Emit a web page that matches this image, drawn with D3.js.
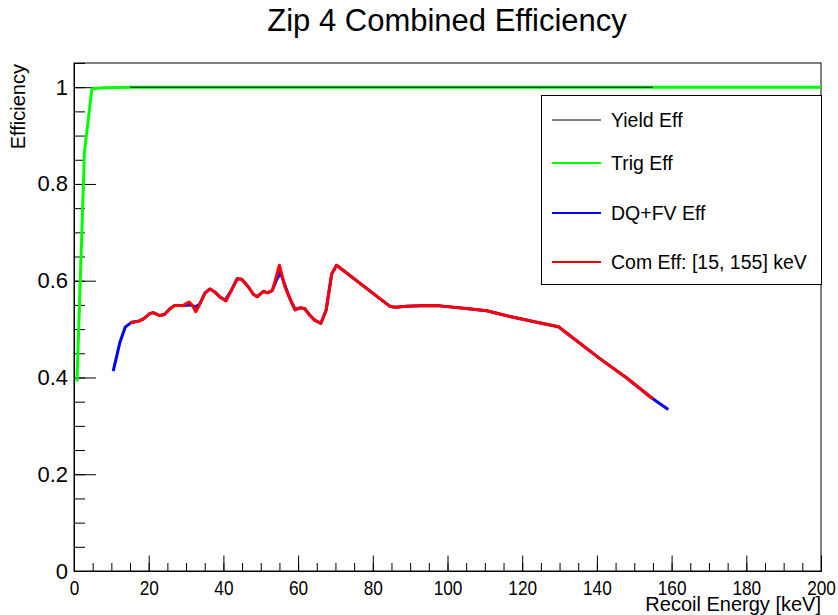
<!DOCTYPE html>
<html>
<head>
<meta charset="utf-8">
<script src="https://cdn.jsdelivr.net/npm/d3@7"></script>
<style>
  body { margin: 0; background: #fff; }
  svg { font-family: "Liberation Sans", Arial, Helvetica, sans-serif; }
</style>
</head>
<body>
<script>
// values
const yieldE = [15, 155]
const yieldV = [1, 1]

const trigE = [0.8, 2.8, 4.8, 8, 15, 200]
const trigV = [0.392, 0.866, 0.997, 0.999, 1.0, 1.0]

const dqE = [10.5, 12.3, 13.7, 15.4, 17.2, 18.6, 20.3, 21.2, 23.0, 24.2, 25.7, 27.0, 29.3, 31.0, 32.6, 33.7,
  35.1, 36.4, 37.8, 39.1, 40.5, 42.2, 43.7, 44.9, 46.7, 48.0, 49.1, 50.7, 51.8, 53.1, 54.3, 55.3, 56.5,
  57.8, 59.2, 60.5, 61.8, 63.2, 64.5, 66.1, 67.5, 69.0, 70.3, 84.6, 85.9, 89.1, 94.4, 98.0, 105.6, 110.5,
  116.7, 123.9, 129.7, 131.0, 140.8, 148.0, 154.4, 159.1]
const dqV = [0.413, 0.473, 0.504, 0.514, 0.516, 0.521, 0.532, 0.534, 0.528, 0.530, 0.542, 0.549, 0.549, 0.550, 0.546, 0.552,
  0.575, 0.583, 0.576, 0.566, 0.560, 0.581, 0.604, 0.603, 0.587, 0.572, 0.567, 0.578, 0.575, 0.580, 0.603, 0.616, 0.590,
  0.563, 0.540, 0.544, 0.542, 0.528, 0.518, 0.512, 0.539, 0.614, 0.632, 0.547, 0.545, 0.547, 0.549, 0.548, 0.542, 0.538,
  0.526, 0.514, 0.505, 0.497, 0.439, 0.399, 0.359, 0.334]

const comE = [15, 17.2, 18.6, 20.3, 21.2, 23.0, 24.2, 25.7, 27.0, 29.3, 30.8, 31.7, 32.6, 33.7,
  35.1, 36.4, 37.8, 39.1, 40.7, 42.2, 43.7, 44.9, 46.7, 48.0, 49.1, 50.7, 51.8, 53.1, 54.1, 55.0, 56.5,
  57.8, 59.2, 60.5, 61.8, 63.2, 64.5, 66.1, 67.5, 69.0, 70.3, 84.6, 85.9, 89.1, 94.4, 98.0, 105.6, 110.5,
  116.7, 123.9, 129.7, 131.0, 140.8, 148.0, 155]
const comV = [0.513, 0.516, 0.521, 0.532, 0.534, 0.528, 0.530, 0.542, 0.549, 0.549, 0.556, 0.549, 0.536, 0.552,
  0.575, 0.583, 0.576, 0.566, 0.558, 0.581, 0.604, 0.603, 0.587, 0.572, 0.567, 0.578, 0.575, 0.580, 0.607, 0.632, 0.587,
  0.563, 0.540, 0.544, 0.542, 0.528, 0.518, 0.512, 0.539, 0.614, 0.632, 0.547, 0.545, 0.547, 0.549, 0.548, 0.542, 0.538,
  0.526, 0.514, 0.505, 0.497, 0.439, 0.399, 0.356]

const series = [
  { name: 'Trig Eff', e: trigE, v: trigV, color: '#00ff00', w: 3 },
  { name: 'Yield Eff', e: yieldE, v: yieldV, color: '#000000', w: 1 },
  { name: 'DQ+FV Eff', e: dqE, v: dqV, color: '#0000ff', w: 3 },
  { name: 'Com Eff: [15, 155] keV', e: comE, v: comV, color: '#ff0000', w: 3 }
]
const legendOrder = ['Yield Eff', 'Trig Eff', 'DQ+FV Eff', 'Com Eff: [15, 155] keV']
const legendY = [120, 163, 213, 262]

const width = 838
const height = 615
const padL = 74, padR = 821, padT = 63, padB = 571

const svg = d3.select('body')
  .append('svg')
  .attr('width', width)
  .attr('height', height)

const x = d3.scaleLinear().domain([0, 200]).range([padL, padR])
const y = d3.scaleLinear().domain([0, 1.05]).range([padB, padT])

// frame
svg.append('rect')
  .attr('x', padL).attr('y', padT)
  .attr('width', padR - padL).attr('height', padB - padT)
  .attr('fill', 'none').attr('stroke', '#000').attr('stroke-width', 1)

// x axis: major + minor ticks pointing inward
svg.append('g')
  .attr('transform', `translate(0,${padB})`)
  .call(d3.axisBottom(x).tickValues(d3.range(0, 201, 5)).tickSizeInner(-8).tickSizeOuter(0).tickFormat(''))
svg.append('g')
  .attr('transform', `translate(0,${padB})`)
  .call(d3.axisBottom(x).tickValues(d3.range(0, 201, 20)).tickSizeInner(-15.5).tickSizeOuter(0).tickPadding(9))
  .call(g => g.selectAll('text').attr('font-size', 21).attr('fill', '#000').attr('font-family', null)
    .attr('transform', 'scale(0.82,1)'))

// y axis
svg.append('g')
  .attr('transform', `translate(${padL},0)`)
  .call(d3.axisLeft(y).tickValues(d3.range(0, 1.051, 0.05)).tickSizeInner(-11).tickSizeOuter(0).tickFormat(''))
svg.append('g')
  .attr('transform', `translate(${padL},0)`)
  .call(d3.axisLeft(y).tickValues([0, 0.2, 0.4, 0.6, 0.8, 1]).tickSizeInner(-22).tickSizeOuter(0).tickPadding(6)
    .tickFormat(d3.format('')))
  .call(g => g.selectAll('text').attr('font-size', 22).attr('fill', '#000').attr('font-family', null))

svg.selectAll('.domain').attr('stroke', '#000')
svg.selectAll('.tick line').attr('stroke', '#000')

// curves
const line = d3.line().x(d => x(d[0])).y(d => y(d[1]))

svg.append('g')
  .selectAll('path')
  .data(series)
  .enter()
  .append('path')
  .attr('d', s => line(s.e.map((e, i) => [e, s.v[i]])))
  .attr('fill', 'none')
  .attr('stroke', s => s.color)
  .attr('stroke-width', s => s.w)
  .attr('stroke-linejoin', 'round')

// legend
svg.append('rect')
  .attr('x', 541.5).attr('y', 95.5)
  .attr('width', 280).attr('height', 189)
  .attr('fill', '#fff').attr('stroke', '#000').attr('stroke-width', 1)

const leg = svg.append('g')
  .selectAll('g')
  .data(legendOrder.map(n => series.find(s => s.name === n)))
  .enter()
  .append('g')
  .attr('transform', (d, i) => `translate(0,${legendY[i]})`)

leg.append('line')
  .attr('x1', 552).attr('x2', 601)
  .attr('stroke', d => d.color)
  .attr('stroke-width', d => d.w === 1 ? 1 : 2)

leg.append('text')
  .attr('x', 611)
  .attr('dy', '0.35em')
  .attr('font-size', 19.5)
  .text(d => d.name)

// titles
svg.append('text')
  .attr('x', 447).attr('y', 31)
  .attr('text-anchor', 'middle')
  .attr('font-size', 31)
  .text('Zip 4 Combined Efficiency')

svg.append('text')
  .attr('x', padR).attr('y', 611)
  .attr('text-anchor', 'end')
  .attr('font-size', 20)
  .text('Recoil Energy [keV]')

svg.append('text')
  .attr('transform', `translate(25,${padT + 1}) rotate(-90)`)
  .attr('text-anchor', 'end')
  .attr('font-size', 20)
  .text('Efficiency')
</script>
</body>
</html>
